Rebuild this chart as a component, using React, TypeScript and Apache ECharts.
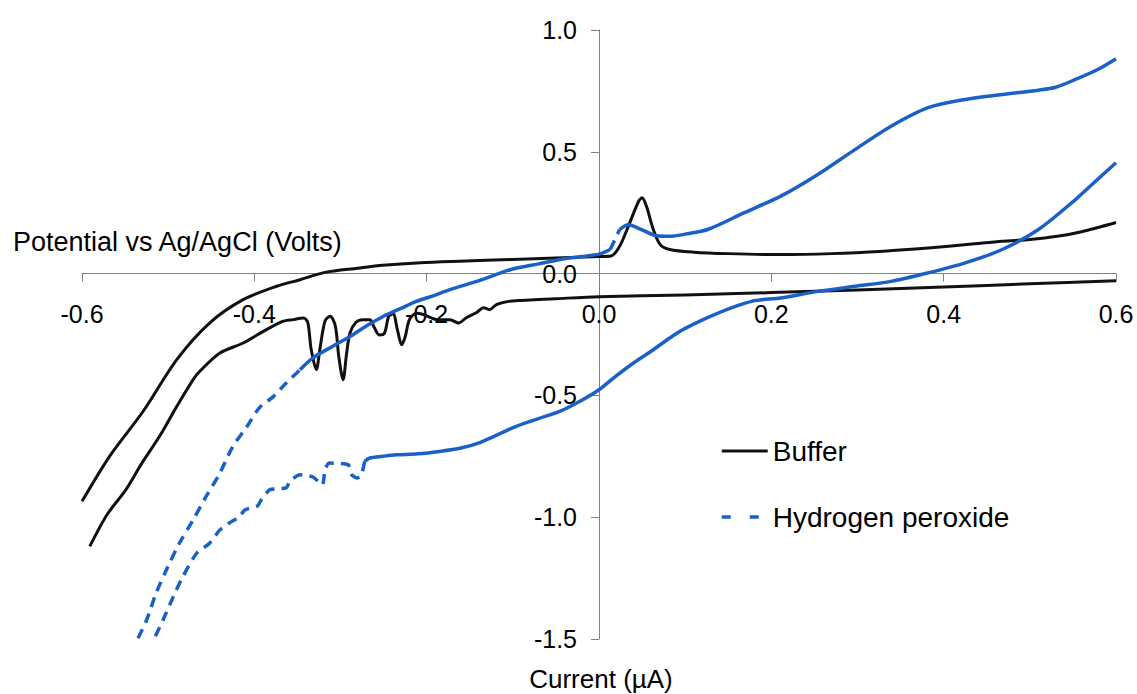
import { useEffect, useRef } from "react";
import * as echarts from "echarts";

const FONT = "'Liberation Sans', Arial, sans-serif";

// Axis ranges and tick steps
const X_MIN = -0.6;
const X_MAX = 0.6;
const X_STEP = 0.2;
const Y_MIN = -1.5;
const Y_MAX = 1.0;
const Y_STEP = 0.5;

const seriesNames = ["Buffer", "Hydrogen peroxide"];
const xAxisTitle = "Potential vs Ag/AgCl (Volts)";
const yAxisTitle = "Current (µA)";

// Buffer: forward sweep (upper branch), left to right
const bufferForward: [number, number][] = [
  [-0.6, -0.935], [-0.568, -0.75], [-0.529, -0.565], [-0.49, -0.353], [-0.452, -0.203],
  [-0.413, -0.107], [-0.374, -0.052], [-0.347, -0.025], [-0.318, 0.005], [-0.28, 0.022],
  [-0.251, 0.034], [-0.207, 0.045], [-0.162, 0.051], [-0.1, 0.058], [-0.05, 0.064],
  [0.0, 0.07], [0.014, 0.072], [0.024, 0.112], [0.034, 0.194], [0.046, 0.297],
  [0.05, 0.311], [0.055, 0.277], [0.063, 0.181], [0.071, 0.119], [0.082, 0.099],
  [0.11, 0.088], [0.15, 0.082], [0.211, 0.078], [0.27, 0.082], [0.33, 0.092],
  [0.382, 0.105], [0.43, 0.12], [0.468, 0.133], [0.5, 0.14], [0.532, 0.153],
  [0.56, 0.172], [0.6, 0.21],
];

// Buffer: reverse sweep (lower branch), right to left
const bufferReverse: [number, number][] = [
  [0.6, -0.029], [0.5, -0.042], [0.4, -0.055], [0.3, -0.067], [0.2, -0.078],
  [0.1, -0.088], [0.0, -0.095], [-0.05, -0.103], [-0.09, -0.11], [-0.105, -0.114],
  [-0.119, -0.127], [-0.127, -0.148], [-0.134, -0.14], [-0.142, -0.16], [-0.154, -0.181],
  [-0.163, -0.203], [-0.173, -0.189], [-0.188, -0.189], [-0.204, -0.168], [-0.212, -0.163],
  [-0.22, -0.189], [-0.225, -0.26], [-0.229, -0.292], [-0.234, -0.23], [-0.239, -0.165],
  [-0.244, -0.175], [-0.249, -0.245], [-0.255, -0.252], [-0.261, -0.22], [-0.266, -0.189],
  [-0.274, -0.189], [-0.282, -0.2], [-0.289, -0.244], [-0.293, -0.33], [-0.297, -0.436],
  [-0.302, -0.34], [-0.306, -0.215], [-0.312, -0.175], [-0.318, -0.195], [-0.324, -0.312],
  [-0.328, -0.394], [-0.334, -0.312], [-0.338, -0.2], [-0.343, -0.182], [-0.355, -0.189],
  [-0.367, -0.196], [-0.386, -0.23], [-0.413, -0.285], [-0.44, -0.326], [-0.463, -0.4],
  [-0.471, -0.435], [-0.49, -0.545], [-0.51, -0.668], [-0.53, -0.775], [-0.549, -0.887],
  [-0.571, -0.99], [-0.591, -1.12],
];

// Hydrogen peroxide: forward sweep, steep dashed start
const peroxideForwardDashed: [number, number][] = [
  [-0.535, -1.497], [-0.525, -1.422], [-0.514, -1.312], [-0.502, -1.216], [-0.487, -1.107],
  [-0.471, -1.011], [-0.456, -0.915], [-0.44, -0.819], [-0.425, -0.71], [-0.409, -0.63],
  [-0.394, -0.55], [-0.378, -0.505], [-0.363, -0.449], [-0.347, -0.395],
];

// Hydrogen peroxide: forward sweep, continuous part up to the step
const peroxideForwardSolidA: [number, number][] = [
  [-0.347, -0.395], [-0.332, -0.346], [-0.31, -0.3], [-0.289, -0.258], [-0.27, -0.215],
  [-0.25, -0.175], [-0.23, -0.143], [-0.212, -0.114], [-0.19, -0.088], [-0.173, -0.066],
  [-0.14, -0.03], [-0.103, 0.016], [-0.07, 0.04], [-0.045, 0.058], [-0.02, 0.07],
  [0.0, 0.08], [0.009, 0.092], [0.013, 0.099],
];

// Hydrogen peroxide: small dashed step near 0.02
const peroxideStepDashed: [number, number][] = [
  [0.013, 0.099], [0.024, 0.181],
];

// Hydrogen peroxide: forward sweep, after the step
const peroxideForwardSolidB: [number, number][] = [
  [0.024, 0.181], [0.034, 0.201], [0.048, 0.183], [0.067, 0.155], [0.082, 0.153],
  [0.1, 0.162], [0.126, 0.181], [0.168, 0.249], [0.211, 0.318], [0.254, 0.407],
  [0.297, 0.509], [0.339, 0.605], [0.382, 0.681], [0.425, 0.715], [0.468, 0.735],
  [0.51, 0.753], [0.53, 0.765], [0.553, 0.797], [0.58, 0.84], [0.6, 0.882],
];

// Hydrogen peroxide: reverse sweep, continuous part
const peroxideReverseSolid: [number, number][] = [
  [0.6, 0.455], [0.575, 0.375], [0.553, 0.304], [0.51, 0.181], [0.468, 0.099],
  [0.425, 0.044], [0.382, 0.003], [0.339, -0.032], [0.297, -0.052], [0.254, -0.073],
  [0.211, -0.1], [0.177, -0.114], [0.134, -0.168], [0.1, -0.225], [0.083, -0.262],
  [0.06, -0.32], [0.04, -0.367], [0.02, -0.42], [0.0, -0.477], [-0.02, -0.52],
  [-0.045, -0.565], [-0.07, -0.595], [-0.096, -0.627], [-0.12, -0.665], [-0.14, -0.696],
  [-0.16, -0.716], [-0.185, -0.73], [-0.21, -0.74], [-0.235, -0.744], [-0.251, -0.75],
  [-0.266, -0.757], [-0.272, -0.771],
];

// Hydrogen peroxide: reverse sweep, stepped dashed tail
const peroxideReverseDashed: [number, number][] = [
  [-0.272, -0.771], [-0.276, -0.83], [-0.281, -0.839], [-0.287, -0.826], [-0.291, -0.785],
  [-0.313, -0.778], [-0.318, -0.805], [-0.321, -0.867], [-0.332, -0.835], [-0.347, -0.826],
  [-0.359, -0.853], [-0.363, -0.88], [-0.382, -0.887], [-0.392, -0.929], [-0.396, -0.953],
  [-0.411, -0.97], [-0.417, -0.997], [-0.429, -1.024], [-0.44, -1.052], [-0.452, -1.107],
  [-0.467, -1.148], [-0.483, -1.244], [-0.494, -1.326], [-0.506, -1.422], [-0.516, -1.497],
];

const BLACK = "#111111";
const BLUE = "#1a60c6";
const DASH = [10, 7];

const CHART_W = 1137;
const CHART_H = 694;
const GRID_LEFT = 82;
const GRID_RIGHT = 21;
const GRID_TOP = 30;
const GRID_BOTTOM = 55;

const fmt = (v: number) => (Math.abs(v) < 1e-9 ? 0 : v).toFixed(1);

function lineSeries(
  name: string,
  data: [number, number][],
  color: string,
  width: number,
  dashed: boolean,
  z: number,
  smooth: number,
) {
  return {
    type: "line",
    name,
    data,
    symbol: "none",
    showSymbol: false,
    silent: true,
    smooth,
    z,
    itemStyle: { color },
    lineStyle: { color, width, type: dashed ? DASH : "solid", cap: "butt", join: "round" },
  };
}

export default function App() {
  const ref = useRef<HTMLDivElement>(null);

  useEffect(() => {
    if (!ref.current) return;
    const chart = echarts.init(ref.current, null, { renderer: "svg" });
    const plotW = CHART_W - GRID_LEFT - GRID_RIGHT;
    const plotH = CHART_H - GRID_TOP - GRID_BOTTOM;
    // Place the axes so that they cross at the origin (0, 0)
    const yAxisOffset = -(plotW * (0 - X_MIN)) / (X_MAX - X_MIN);
    const xAxisOffset = -(plotH * (0 - Y_MIN)) / (Y_MAX - Y_MIN);
    chart.setOption({
      animation: false,
      backgroundColor: "#ffffff",
      textStyle: { fontFamily: FONT },
      grid: { left: GRID_LEFT, right: GRID_RIGHT, top: GRID_TOP, bottom: GRID_BOTTOM, containLabel: false },
      xAxis: {
        type: "value",
        min: X_MIN,
        max: X_MAX,
        interval: X_STEP,
        offset: xAxisOffset,
        axisLine: { onZero: false, lineStyle: { color: "#808080", width: 1 } },
        axisTick: { show: true, length: 8, lineStyle: { color: "#808080", width: 1 } },
        axisLabel: { margin: 28, fontSize: 25, color: "#000", fontFamily: FONT, formatter: fmt },
        splitLine: { show: false },
      },
      yAxis: {
        type: "value",
        min: Y_MIN,
        max: Y_MAX,
        interval: Y_STEP,
        offset: yAxisOffset,
        axisLine: { onZero: false, lineStyle: { color: "#808080", width: 1 } },
        axisTick: { show: true, length: 8, lineStyle: { color: "#808080", width: 1 } },
        axisLabel: { margin: 22, fontSize: 25, color: "#000", fontFamily: FONT, formatter: fmt },
        splitLine: { show: false },
      },
      legend: {
        orient: "vertical",
        left: 720,
        top: 436,
        padding: 0,
        itemGap: 36,
        itemWidth: 46,
        itemHeight: 30,
        textStyle: { fontSize: 28, color: "#000", fontFamily: FONT, lineHeight: 30 },
        itemStyle: { opacity: 0 },
        data: [
          { name: seriesNames[0], lineStyle: { color: BLACK, width: 3, type: "solid" } },
          { name: seriesNames[1], lineStyle: { color: BLUE, width: 3.5, type: [9, 19] } },
        ],
      },
      graphic: [
        {
          type: "text",
          x: 13,
          y: 242,
          style: {
            text: xAxisTitle,
            fontSize: 27,
            fontFamily: FONT,
            fill: "#000",
            align: "left",
            verticalAlign: "middle",
            textAlign: "left",
            textVerticalAlign: "middle",
          },
        },
        {
          type: "text",
          x: 601,
          y: 679,
          style: {
            text: yAxisTitle,
            fontSize: 26,
            fontFamily: FONT,
            fill: "#000",
            align: "center",
            verticalAlign: "middle",
            textAlign: "center",
            textVerticalAlign: "middle",
          },
        },
      ],
      series: [
        lineSeries(seriesNames[0], bufferForward, BLACK, 3, false, 2, 0.3),
        lineSeries(seriesNames[0], bufferReverse, BLACK, 3, false, 2, 0.3),
        lineSeries(seriesNames[1], peroxideForwardDashed, BLUE, 3.5, true, 3, 0.3),
        lineSeries(seriesNames[1], peroxideReverseDashed, BLUE, 3.5, true, 3, 0.2),
        lineSeries(seriesNames[1], peroxideStepDashed, BLUE, 3.5, true, 3, 0),
        lineSeries(seriesNames[1], peroxideForwardSolidA, BLUE, 3.5, false, 3, 0.3),
        lineSeries(seriesNames[1], peroxideForwardSolidB, BLUE, 3.5, false, 3, 0.3),
        lineSeries(seriesNames[1], peroxideReverseSolid, BLUE, 3.5, false, 3, 0.3),
      ],
    });
    return () => chart.dispose();
  }, []);

  return (
    <div
      ref={ref}
      style={{ position: "absolute", left: 0, top: 0, width: CHART_W, height: CHART_H, background: "#fff" }}
    />
  );
}
